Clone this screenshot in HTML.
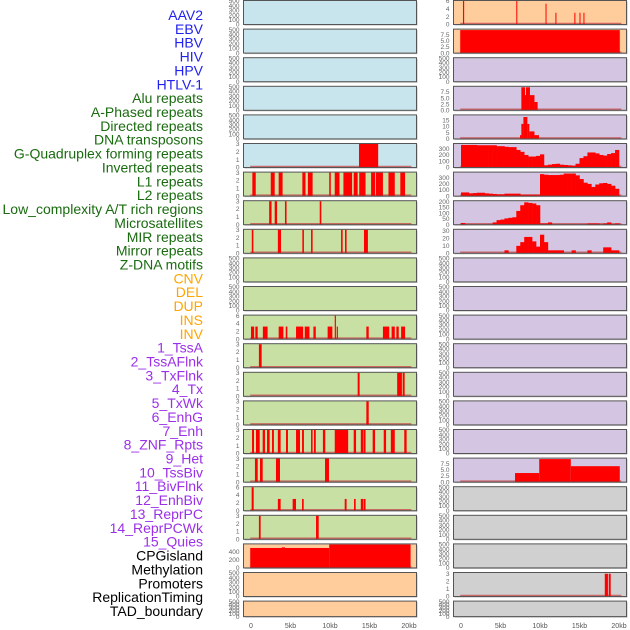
<!DOCTYPE html>
<html><head><meta charset="utf-8"><style>
html,body{margin:0;padding:0;background:#fff;}
svg{display:block;font-family:"Liberation Sans",sans-serif;}
</style></head><body>
<svg id="chart" width="630" height="630" viewBox="0 0 630 630" xmlns="http://www.w3.org/2000/svg"></svg>
<script>
// ---- labels ----
const labelNames = ["AAV2","EBV","HBV","HIV","HPV","HTLV-1","Alu repeats","A-Phased repeats","Directed repeats","DNA transposons","G-Quadruplex forming repeats","Inverted repeats","L1 repeats","L2 repeats","Low_complexity A/T rich regions","Microsatellites","MIR repeats","Mirror repeats","Z-DNA motifs","CNV","DEL","DUP","INS","INV","1_TssA","2_TssAFlnk","3_TxFlnk","4_Tx","5_TxWk","6_EnhG","7_Enh","8_ZNF_Rpts","9_Het","10_TssBiv","11_BivFlnk","12_EnhBiv","13_ReprPC","14_ReprPCWk","15_Quies","CPGisland","Methylation","Promoters","ReplicationTiming","TAD_boundary"];
const labelGroupSizes = [6,13,5,15,5];
const labelGroupColors = ["#2222ee","#1a6b10","#ffa500","#9b30e8","#000000"];
const xTicks = [0,5,10,15,20];
const xTickLabels = ["0","5kb","10kb","15kb","20kb"];

// ---- interval data [startKb, endKb, value] ----
const gquadLeft = [[13.67,16.1,3]];
const l1Left = [[0.17,0.6,3],[2.5,3.0,3],[3.5,4.0,3],[6.5,6.9,3],[7.2,7.8,3],[9.9,10.1,3],[10.6,11.2,3],[11.7,12.8,3],[13.0,13.5,3],[13.7,14.5,3],[15.2,15.7,3],[15.8,16.7,3],[17.4,18.2,3],[18.9,19.5,3]];
const l2Left = [[2.3,2.6,3],[3.0,3.3,3],[4.3,4.5,3],[8.7,8.9,3]];
const lowCompLeft = [[0.1,0.3,3],[3.4,3.8,3],[6.5,6.7,3],[7.6,7.8,3],[11.4,11.6,3],[11.9,12.1,3],[14.3,14.8,3]];
const insLeft = [[0,0.4,3.2],[0.55,0.85,3.2],[1.5,2.1,3.2],[3.5,4.1,3.2],[4.4,4.6,3.2],[5.7,6.6,3.2],[6.8,7.4,3.2],[7.9,8.2,3.2],[9.7,10.3,3.2],[10.6,10.75,6],[10.85,11.0,3.2],[14.6,14.9,3.2],[16.7,17.5,3.2],[17.8,18.2,3.2],[18.4,18.7,3.2],[19.0,19.5,3.2]];
const tssALeft = [[1.0,1.35,3]];
const tssAFlnkLeft = [[13.5,13.75,3],[18.5,19.1,3],[19.2,19.45,3]];
const txFlnkLeft = [[14.6,14.9,3]];
const txLeft = [[0.13,0.38,3],[0.63,1.1,3],[1.48,1.77,3],[2.03,2.36,3],[2.66,2.9,3],[3.4,3.75,3],[4.43,4.68,3],[5.7,6.2,3],[6.46,6.7,3],[7.6,7.8,3],[7.97,8.2,3],[9.1,9.4,3],[10.6,12.3,3],[13.0,13.3,3],[13.9,14.2,3],[14.25,14.5,3],[15.4,15.7,3],[16.8,17.1,3],[17.7,18.2,3],[19.4,19.7,3]];
const txWkLeft = [[0.5,0.85,3],[1.14,1.48,3],[3.16,3.67,3],[9.37,9.87,3]];
const enhGLeft = [[0.08,0.34,6],[3.4,3.75,3],[5.27,5.7,3],[6.46,6.67,3],[11.86,12.1,3],[13.04,13.25,3],[13.9,14.2,3],[14.26,14.5,3]];
const enhLeft = [[1.0,1.22,3],[8.23,8.57,3]];
const cpgLeft = [[-0.1,9.9,490],[3.9,4.3,505],[9.9,20.2,575]];
const aav2Right = [[0.25,0.4,6],[7.0,7.12,6],[10.7,10.82,5.3],[11.95,12.08,3],[14.35,14.48,3],[15.0,15.12,3],[15.5,15.62,3]];
const ebvRight = [[-0.1,20.1,9.4]];
const aluRight = [[7.64,8.1,9.4],[8.1,8.23,6.2],[8.23,8.73,9.4],[8.73,9.3,6.2],[9.3,9.7,3.4]];
const directedRight = [[7.47,7.64,3],[7.64,7.9,12],[7.9,8.4,17.5],[8.4,8.65,12],[8.65,9.3,6],[9.3,9.87,3]];
const hetRight = [[6.84,9.9,3.7],[9.9,13.9,9.4],[13.9,20.1,6.5]];
const promotersRight = [[18.2,18.6,3],[18.7,18.95,3]];

// ---- binned profile data (0.5 kb bins from 0) ----
const gquadRight = [360,360,360,360,355,355,355,355,355,340,340,330,325,325,280,250,200,175,175,185,210,35,45,55,60,45,40,35,30,60,150,180,240,240,225,200,190,215,230,280];
const l1Right = [60,60,45,50,55,55,45,40,35,30,30,40,40,40,40,25,25,25,25,25,360,350,345,345,345,350,370,370,370,340,280,220,200,150,190,210,215,200,170,120];
const lowCompRight = [15,0,0,0,0,0,0,0,20,40,45,55,60,65,120,170,195,190,185,170,10,10,20,0,0,0,0,0,0,0,0,0,10,10,10,0,10,20,5,10];
const microRight = [0,0,0,0,0,0,0,0,0,0,0,4,0,0,10,15,22,22,16,9,25,15,4,4,4,4,0,0,4,0,0,0,4,0,0,0,8,8,4,4];

const T500 = [0,100,200,300,400,500];
const T3 = [0,1,2,3];
const T6 = [0,2,4,6];
const T75 = [0,2.5,5,7.5];
const C_BLUE="#c8e4ec", C_GREEN="#c8e0a4", C_ORANGE="#ffcc9c", C_PURPLE="#d4c6e2", C_GRAY="#d0d0d0";

// rows: [leftBg, leftData, leftType, leftYmax, leftTicks, rightBg, rightData, rightType, rightYmax, rightTicks]
const rows = [
 [C_BLUE,null,"",500,T500, C_ORANGE,aav2Right,"iv",6,T6],
 [C_BLUE,null,"",500,T500, C_ORANGE,ebvRight,"iv",9.6,T75],
 [C_BLUE,null,"",500,T500, C_PURPLE,null,"",500,T500],
 [C_BLUE,null,"",500,T500, C_PURPLE,aluRight,"iv",9.6,T75],
 [C_BLUE,null,"",500,T500, C_PURPLE,directedRight,"iv",18.8,[0,5,10,15]],
 [C_BLUE,gquadLeft,"iv",3,T3, C_PURPLE,gquadRight,"bin",375,[0,100,200,300]],
 [C_GREEN,l1Left,"iv",3,T3, C_PURPLE,l1Right,"bin",385,[0,100,200,300]],
 [C_GREEN,l2Left,"iv",3,T3, C_PURPLE,lowCompRight,"bin",205,[0,50,100,150,200]],
 [C_GREEN,lowCompLeft,"iv",3,T3, C_PURPLE,microRight,"bin",31.6,[0,10,20,30]],
 [C_GREEN,null,"",500,T500, C_PURPLE,null,"",500,T500],
 [C_GREEN,null,"",500,T500, C_PURPLE,null,"",500,T500],
 [C_GREEN,insLeft,"iv",6,T6, C_PURPLE,null,"",500,T500],
 [C_GREEN,tssALeft,"iv",3,T3, C_PURPLE,null,"",500,T500],
 [C_GREEN,tssAFlnkLeft,"iv",3,T3, C_PURPLE,null,"",500,T500],
 [C_GREEN,txFlnkLeft,"iv",3,T3, C_PURPLE,null,"",500,T500],
 [C_GREEN,txLeft,"iv",3,T3, C_PURPLE,null,"",500,T500],
 [C_GREEN,txWkLeft,"iv",3,T3, C_PURPLE,hetRight,"iv",9.6,T75],
 [C_GREEN,enhGLeft,"iv",6,T6, C_GRAY,null,"",500,T500],
 [C_GREEN,enhLeft,"iv",3,T3, C_GRAY,null,"",500,T500],
 [C_ORANGE,cpgLeft,"iv",578,[0,200,400], C_GRAY,null,"",500,T500],
 [C_ORANGE,null,"",500,T500, C_GRAY,promotersRight,"iv",3.1,T3],
 [C_ORANGE,null,"",500,T500, C_GRAY,null,"",500,T500]
];

const NS="http://www.w3.org/2000/svg";
const svg=document.getElementById("chart");
function mk(tag,attrs,parent){const e=document.createElementNS(NS,tag);for(const k in attrs)e.setAttribute(k,attrs[k]);(parent||svg).appendChild(e);return e;}

const PANEL_L=[243.5,416.5], PANEL_R=[453.5,626.5];
const X0_L=251, X0_R=461, PX_PER_KB=7.9;
const ROW_PITCH=28.6, ROW_H=24;
function xScale(side,kb){return (side===0?X0_L:X0_R)+kb*PX_PER_KB;}
function rowTop(i){return 0.5+i*ROW_PITCH;}
function rowH(i){return i===rows.length-1?15.5:ROW_H;}
function yScale(i,v,ymax){const b=rowTop(i)+rowH(i);return b-(v/ymax)*(rowH(i)-0.5);}
function fmt(t,ticks){return ticks===T75?t.toFixed(1):String(t);}

// labels
let li=0;
labelGroupSizes.forEach((n,g)=>{
  for(let k=0;k<n;k++){
    const t=mk("text",{x:203,y:15+li*13.86+5,"text-anchor":"end","font-size":"14",fill:labelGroupColors[g]});
    
    
    t.textContent=labelNames[li];li++;
  }
});

rows.forEach((r,i)=>{
  [0,1].forEach(side=>{
    const bg=r[side*5],data=r[side*5+1],type=r[side*5+2],ymax=r[side*5+3],ticks=r[side*5+4];
    const P=side===0?PANEL_L:PANEL_R;
    const g=mk("g",{});
    
    
    const top=rowTop(i),h=rowH(i);
    mk("rect",{x:P[0]+1,y:top+1,width:P[1]-P[0],height:h,fill:"#bbbbbb"},g);
    const bgr=mk("rect",{x:P[0],y:top,width:P[1]-P[0],height:h,fill:bg},g);
    
    
    if(data){
      const bl=mk("line",{x1:xScale(side,-0.1),x2:xScale(side,20.3),y1:top+h-1,y2:top+h-1,stroke:"#c85050","stroke-width":1.5,opacity:0.8},g);
      
      
      if(type==="iv"){
        data.forEach(d=>{
          const y=yScale(i,d[2],ymax);
          const b=mk("rect",{x:xScale(side,d[0]),y:y,width:Math.max(1,xScale(side,d[1])-xScale(side,d[0])),height:top+h-y,fill:"#ff0000"},g);
          
          
        });
      }else{
        data.forEach((v,k)=>{
          if(v<=0)return;
          const y=yScale(i,v,ymax);
          const b=mk("rect",{x:xScale(side,k*0.5),y:y,width:0.5*PX_PER_KB+0.3,height:top+h-y,fill:"#ff0000"},g);
          
          
        });
      }
    }
    mk("rect",{x:P[0],y:top,width:P[1]-P[0],height:h,fill:"none",stroke:"#555","stroke-width":1},g);
    ticks.forEach(t=>{
      const y=yScale(i,t,ymax);
      const tl=mk("text",{x:P[0]-4,y:y+2.2,"text-anchor":"end","font-size":"6.5",fill:"#666"},g);
      
      
      tl.textContent=fmt(t,ticks);
    });
  });
});

// x axes
[0,1].forEach(side=>{
  xTicks.forEach((t,k)=>{
    const tl=mk("text",{x:xScale(side,t),y:628,"text-anchor":"middle","font-size":"7",fill:"#555"});
    
    
    tl.textContent=xTickLabels[k];
  });
});
</script>
</body></html>
